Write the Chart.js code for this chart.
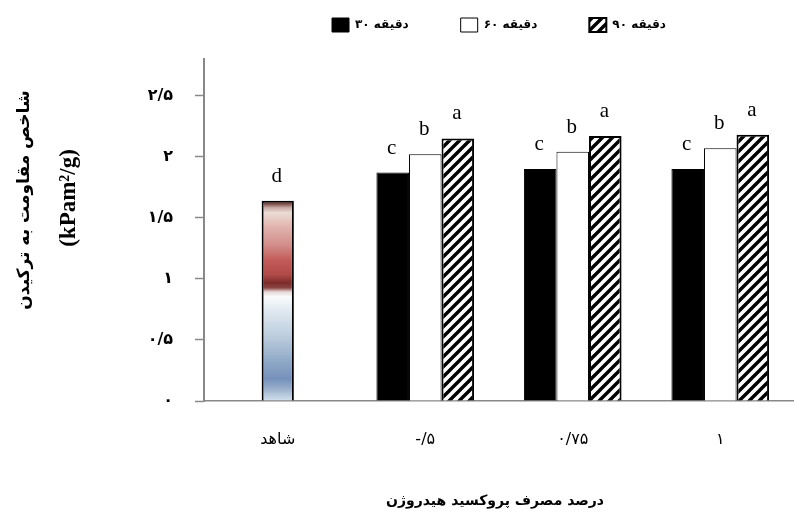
<!DOCTYPE html>
<html><head><meta charset="utf-8">
<script src="https://cdn.jsdelivr.net/npm/chart.js@4"></script>
<style>html,body{margin:0;padding:0;background:#fff}#wrap{width:794px;height:517px}</style>
</head><body><div id="wrap"><canvas id="c" width="794" height="517"></canvas></div>
<script>
const categories = ['شاهد', '-/۵', '۰/۷۵', '۱'];
const seriesNames = ['۳۰ دقیقه', '۶۰ دقیقه', '۹۰ دقیقه'];
const controlValues = [1.64, null, null, null];
const min30 = [null, 1.87, 1.90, 1.90];
const min60 = [null, 2.02, 2.04, 2.07];
const min90 = [null, 2.15, 2.17, 2.18];
const controlLetters = ['d', '', '', ''];
const letters30 = ['', 'c', 'c', 'c'];
const letters60 = ['', 'b', 'b', 'b'];
const letters90 = ['', 'a', 'a', 'a'];
const yTickLabels = ['۰', '۰/۵', '۱', '۱/۵', '۲', '۲/۵'];
const yTitleLines = ['شاخص مقاومت به ترکیدن', '(kPam²/g)'];
const xTitle = 'درصد مصرف پروکسید هیدروژن';

function hatch() {
  const s = 10, c = document.createElement('canvas');
  c.width = s; c.height = s;
  const g = c.getContext('2d');
  g.fillStyle = '#fff'; g.fillRect(0, 0, s, s);
  g.strokeStyle = '#000'; g.lineWidth = 3.4;
  g.beginPath();
  g.moveTo(-2, s + 2); g.lineTo(s + 2, -2);
  g.moveTo(-2, 2); g.lineTo(2, -2);
  g.moveTo(s - 2, s + 2); g.lineTo(s + 2, s - 2);
  g.stroke();
  return g.createPattern(c, 'repeat');
}
const hatchPattern = hatch();

const gradStops = [
  [0, '#5e3330'], [0.015, '#7a4c48'], [0.035, '#c8a8a2'], [0.06, '#ecdcd6'],
  [0.13, '#e2b4ae'], [0.22, '#d28e8a'], [0.30, '#c25a58'], [0.37, '#b04a48'],
  [0.41, '#7c2c2a'], [0.435, '#8a4442'], [0.455, '#e6d6d6'], [0.48, '#f8fbfc'],
  [0.55, '#e0e9f0'], [0.69, '#b8cadb'], [0.81, '#8ca7c5'], [0.89, '#7690bc'],
  [0.94, '#9ab0cc'], [1, '#d4e2ee']
];
function controlFill(ctx) {
  const chart = ctx.chart;
  if (!chart.chartArea || !ctx.parsed || ctx.parsed.y == null || !isFinite(ctx.parsed.y)) return '#c05050';
  const y = chart.scales.y;
  const top = y.getPixelForValue(ctx.parsed.y), bot = y.getPixelForValue(0);
  if (!isFinite(top) || !isFinite(bot)) return '#c05050';
  const g = chart.ctx.createLinearGradient(0, top, 0, bot);
  gradStops.forEach(s => g.addColorStop(s[0], s[1]));
  return g;
}

const lettersPlugin = {
  id: 'letters',
  afterDatasetsDraw(chart) {
    const ctx = chart.ctx;
    const sets = [controlLetters, letters30, letters60, letters90];
    ctx.save();
    ctx.font = '21px "Liberation Serif"';
    ctx.fillStyle = '#000';
    ctx.textAlign = 'center';
    ctx.textBaseline = 'alphabetic';
    sets.forEach((ls, di) => {
      const meta = chart.getDatasetMeta(di);
      meta.data.forEach((el, i) => {
        if (!ls[i]) return;
        ctx.fillText(ls[i], el.x - 1, el.y - 19);
      });
    });
    ctx.restore();
  }
};

const titlesPlugin = {
  id: 'titles',
  afterDraw(chart) {
    const ctx = chart.ctx;
    ctx.save();
    ctx.fillStyle = '#000';
    ctx.textAlign = 'center';
    ctx.textBaseline = 'middle';
    ctx.translate(25, 200);
    ctx.rotate(-Math.PI / 2);
    ctx.font = 'bold 17px "DejaVu Sans"';
    ctx.fillText(yTitleLines[0], 0, 0);
    ctx.restore();
    ctx.save();
    ctx.fillStyle = '#000';
    ctx.textAlign = 'center';
    ctx.textBaseline = 'middle';
    ctx.translate(69, 198);
    ctx.rotate(-Math.PI / 2);
    ctx.font = 'bold 23px "Liberation Serif"';
    ctx.fillText(yTitleLines[1], 0, 0);
    ctx.restore();
    ctx.save();
    ctx.fillStyle = '#000';
    ctx.textAlign = 'center';
    ctx.textBaseline = 'middle';
    ctx.font = 'bold 14px "DejaVu Sans"';
    ctx.fillText(xTitle, 495, 501);
    ctx.restore();
  }
};

new Chart(document.getElementById('c'), {
  type: 'bar',
  data: {
    labels: categories,
    datasets: [
      { label: 'control', data: controlValues, grouped: false, backgroundColor: controlFill,
        borderColor: '#000', borderWidth: 2, categoryPercentage: 0.662, barPercentage: 0.33 },
      { label: seriesNames[0], data: min30, backgroundColor: '#000', borderColor: '#000', borderWidth: 1 },
      { label: seriesNames[1], data: min60, backgroundColor: '#fff', borderColor: '#000', borderWidth: 1 },
      { label: seriesNames[2], data: min90, backgroundColor: hatchPattern, borderColor: '#000', borderWidth: 2 }
    ]
  },
  options: {
    responsive: false,
    animation: false,
    categoryPercentage: 0.662,
    barPercentage: 1,
    layout: { padding: { left: 0, right: -8, top: -34, bottom: 0 } },
    plugins: {
      tooltip: { enabled: false },
      legend: {
        position: 'top',
        fullSize: false,
        labels: {
          filter: (item) => item.datasetIndex > 0,
          color: '#000',
          font: { family: 'DejaVu Sans', size: 12, weight: 'bold' },
          boxWidth: 17, boxHeight: 14, padding: 52
        }
      },
      subtitle: {
        display: true, text: '', position: 'top', fullSize: false, weight: 500,
        font: { size: 10 }, padding: { top: 5, bottom: 0 }
      }
    },
    scales: {
      x: {
        afterFit(s) { s.height = 116; },
        grid: { display: false, drawTicks: false },
        border: { color: '#888', width: 1.5 },
        ticks: { color: '#000', padding: 29, font: { family: 'DejaVu Sans', size: 16 } }
      },
      y: {
        min: 0, max: 2.8,
        afterFit(s) { s.width = 204; },
        grid: { display: true, drawOnChartArea: false, drawTicks: true, tickLength: 9, color: '#888', tickColor: '#888', tickWidth: 1.5 },
        border: { color: '#888', width: 2 },
        ticks: {
          stepSize: 0.5, includeBounds: false, padding: 22, color: '#000',
          font: { family: 'DejaVu Sans', size: 16, weight: 'bold' },
          callback: (v, i) => yTickLabels[i]
        }
      }
    }
  },
  plugins: [lettersPlugin, titlesPlugin]
});
</script></body></html>
